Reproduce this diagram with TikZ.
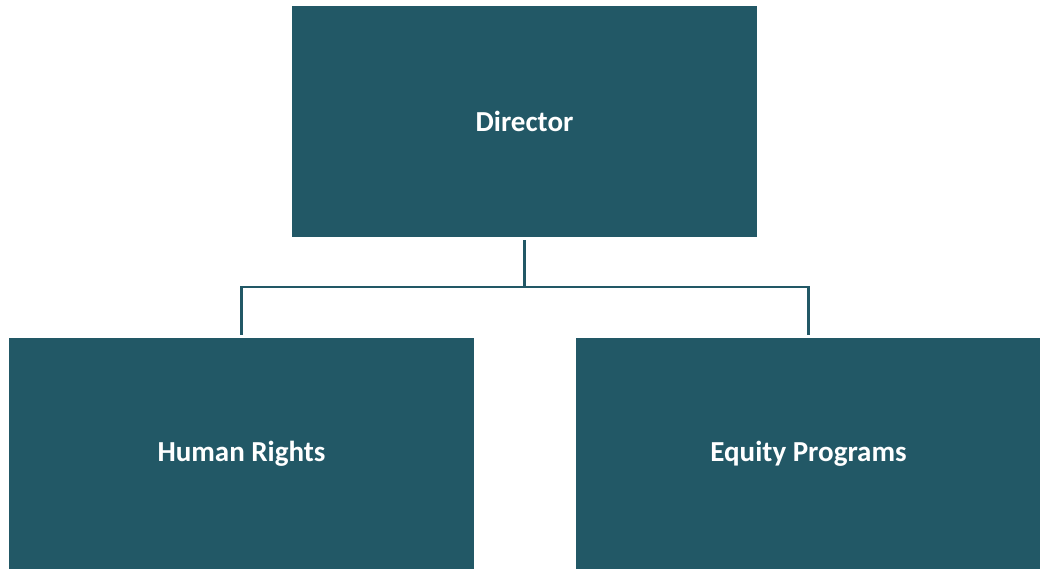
\documentclass[tikz,border=0pt]{standalone}
\usepackage{fontspec}
\setmainfont{Carlito}
\usetikzlibrary{positioning}

\definecolor{unitteal}{HTML}{225866}

\begin{document}
\begin{tikzpicture}[x=1pt,y=1pt,on grid,
    unit/.style={fill=unitteal,draw=none,minimum width=465pt,minimum height=231pt,
      inner sep=0pt,text=white,font=\fontsize{29}{34}\selectfont\bfseries},
    link/.style={draw=unitteal,line width=2.6pt,shorten <=3pt,shorten >=3pt}]
   \useasboundingbox (0,0) rectangle (1040,569);
   \node[unit] (dir) at (524.5,447.5) {Director};
   \node[unit] (hr) [below left=332pt and 283pt of dir] {Human Rights};
   \node[unit] (eq) [below right=332pt and 284pt of dir] {Equity Programs};
   \draw[link] (dir.south) -- ++(0,-50) -| (hr.north);
   \draw[link] (dir.south) -- ++(0,-50) -| (eq.north);
\end{tikzpicture}
\end{document}
